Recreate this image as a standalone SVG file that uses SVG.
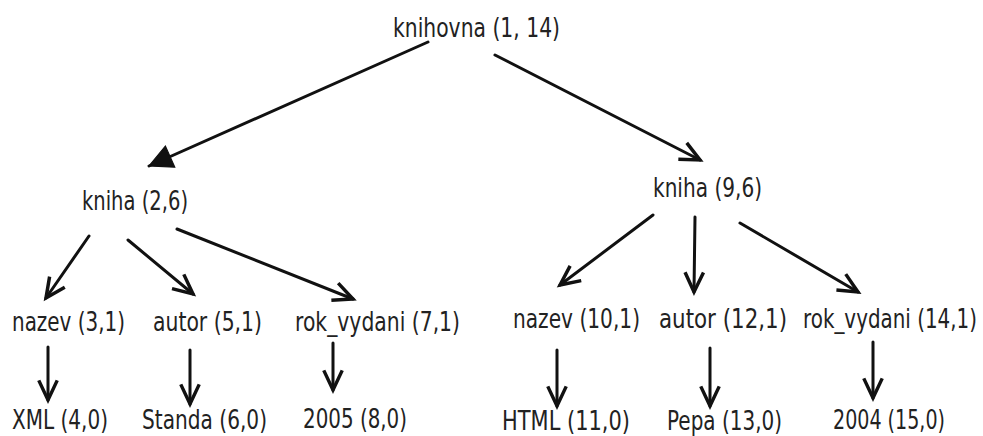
<svg xmlns="http://www.w3.org/2000/svg" width="983" height="436" viewBox="0 0 983 436">
  <style>
    .lbl { font-family: "DejaVu Sans", "Liberation Sans", sans-serif; font-size: 20px; fill: #222; }
    .edge { stroke: #111; stroke-width: 3; fill: none; stroke-linecap: round; }
  </style>
  <defs>
    <marker id="open" markerUnits="userSpaceOnUse" markerWidth="30" markerHeight="30" viewBox="-22 -12 26 24" refX="0" refY="0" orient="auto">
      <path d="M -17 -8 L 0 0 L -17 8" fill="none" stroke="#111" stroke-width="3" stroke-linejoin="miter"/>
    </marker>
    <marker id="solid" markerUnits="userSpaceOnUse" markerWidth="30" markerHeight="30" viewBox="-22 -12 26 24" refX="0" refY="0" orient="auto">
      <path d="M -20 -10 L 0 0 L -20 10 Z" fill="#111" stroke="#111" stroke-width="1"/>
    </marker>
  </defs>
  <rect width="983" height="436" fill="#fff"/>

  <g id="connectors">
    <line class="edge" x1="428" y1="42" x2="149" y2="166" marker-end="url(#solid)"/>
    <line class="edge" x1="495" y1="55" x2="700" y2="160" marker-end="url(#open)"/>
    <line class="edge" x1="89" y1="236" x2="46" y2="298" marker-end="url(#open)"/>
    <line class="edge" x1="128" y1="240" x2="193" y2="294" marker-end="url(#open)"/>
    <line class="edge" x1="177" y1="229" x2="353" y2="299" marker-end="url(#open)"/>
    <line class="edge" x1="48" y1="347" x2="48" y2="400" marker-end="url(#open)"/>
    <line class="edge" x1="190" y1="350" x2="190" y2="404" marker-end="url(#open)"/>
    <line class="edge" x1="333" y1="343" x2="333" y2="390" marker-end="url(#open)"/>
    <line class="edge" x1="653" y1="215" x2="560" y2="285" marker-end="url(#open)"/>
    <line class="edge" x1="695" y1="217" x2="694" y2="292" marker-end="url(#open)"/>
    <line class="edge" x1="740" y1="223" x2="858" y2="292" marker-end="url(#open)"/>
    <line class="edge" x1="557" y1="350" x2="557" y2="406" marker-end="url(#open)"/>
    <line class="edge" x1="710" y1="348" x2="710" y2="406" marker-end="url(#open)"/>
    <line class="edge" x1="873" y1="342" x2="873" y2="398" marker-end="url(#open)"/>
  </g>

  <!-- labels: DejaVu Sans stretched vertically by 1.3 -->
  <g id="knihovna" transform="translate(393 37) scale(1 1.3)"><text class="lbl" textLength="167" lengthAdjust="spacingAndGlyphs">knihovna (1, 14)</text></g>
  <g id="kniha-2" transform="translate(82 210) scale(1 1.3)"><text class="lbl" textLength="106" lengthAdjust="spacingAndGlyphs">kniha (2,6)</text></g>
  <g id="kniha-9" transform="translate(653 197) scale(1 1.3)"><text class="lbl" textLength="109" lengthAdjust="spacingAndGlyphs">kniha (9,6)</text></g>

  <g id="nazev-3" transform="translate(12 331) scale(1 1.3)"><text class="lbl" textLength="113" lengthAdjust="spacingAndGlyphs">nazev (3,1)</text></g>
  <g id="autor-5" transform="translate(153 331) scale(1 1.3)"><text class="lbl" textLength="109" lengthAdjust="spacingAndGlyphs">autor (5,1)</text></g>
  <g id="rok-7" transform="translate(295 331) scale(1 1.3)"><text class="lbl" textLength="165" lengthAdjust="spacingAndGlyphs">rok_vydani (7,1)</text></g>

  <g id="xml-4" transform="translate(12 429) scale(1 1.3)"><text class="lbl" textLength="96" lengthAdjust="spacingAndGlyphs">XML (4,0)</text></g>
  <g id="standa-6" transform="translate(142 429) scale(1 1.3)"><text class="lbl" textLength="125" lengthAdjust="spacingAndGlyphs">Standa (6,0)</text></g>
  <g id="y2005-8" transform="translate(303 428) scale(1 1.3)"><text class="lbl" textLength="104" lengthAdjust="spacingAndGlyphs">2005 (8,0)</text></g>

  <g id="nazev-10" transform="translate(513 328) scale(1 1.3)"><text class="lbl" textLength="127" lengthAdjust="spacingAndGlyphs">nazev (10,1)</text></g>
  <g id="autor-12" transform="translate(659 328) scale(1 1.3)"><text class="lbl" textLength="128" lengthAdjust="spacingAndGlyphs">autor (12,1)</text></g>
  <g id="rok-14" transform="translate(803 328) scale(1 1.3)"><text class="lbl" textLength="174" lengthAdjust="spacingAndGlyphs">rok_vydani (14,1)</text></g>

  <g id="html-11" transform="translate(502 430) scale(1 1.3)"><text class="lbl" textLength="128" lengthAdjust="spacingAndGlyphs">HTML (11,0)</text></g>
  <g id="pepa-13" transform="translate(667 430) scale(1 1.3)"><text class="lbl" textLength="115" lengthAdjust="spacingAndGlyphs">Pepa (13,0)</text></g>
  <g id="y2004-15" transform="translate(833 429) scale(1 1.3)"><text class="lbl" textLength="112" lengthAdjust="spacingAndGlyphs">2004 (15,0)</text></g>
</svg>
